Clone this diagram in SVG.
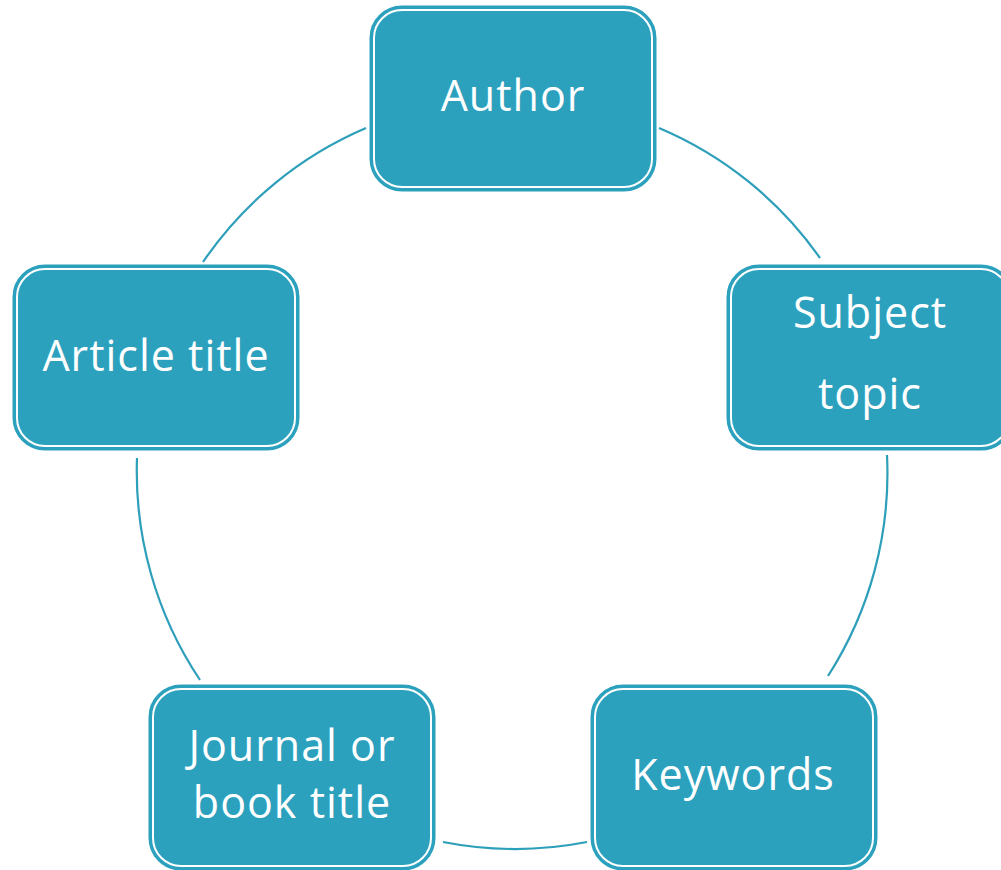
<svg xmlns="http://www.w3.org/2000/svg" width="1001" height="870" viewBox="0 0 1001 870">
<style>
.box{fill:#2ca1be;stroke:#2ca1be;stroke-width:5}
.inner{fill:none;stroke:#ffffff;stroke-width:2}
.lbl{font-family:"Open Sans","DejaVu Sans",sans-serif;font-size:43px;fill:#ffffff;text-anchor:middle;letter-spacing:1px}
.arc{fill:none;stroke:#2e9fba;stroke-width:2.2}
</style>
<rect width="1001" height="870" fill="#ffffff"/>
<g id="connectors">
<path class="arc" d="M659,128 A375.5,375.5 0 0 1 820,258"/>
<path class="arc" d="M887,455 A375.5,375.5 0 0 1 828,676"/>
<path class="arc" d="M587,842 A375.5,375.5 0 0 1 443,842"/>
<path class="arc" d="M200,680 A375.5,375.5 0 0 1 137,458"/>
<path class="arc" d="M203,262 A375.5,375.5 0 0 1 366,128"/>
</g>
<g id="author">
<rect class="box" x="372" y="8" width="282" height="181" rx="30"/>
<rect class="inner" x="374" y="10" width="278" height="177" rx="28"/>
<text class="lbl" x="513" y="111">Author</text>
</g>
<g id="subject">
<rect class="box" x="729" y="267" width="282" height="181" rx="30"/>
<rect class="inner" x="731" y="269" width="278" height="177" rx="28"/>
<text class="lbl" x="870" y="328">Subject</text>
<text class="lbl" x="870" y="409">topic</text>
</g>
<g id="keywords">
<rect class="box" x="593" y="687" width="282" height="181" rx="30"/>
<rect class="inner" x="595" y="689" width="278" height="177" rx="28"/>
<text class="lbl" x="733" y="790">Keywords</text>
</g>
<g id="journal">
<rect class="box" x="151" y="687" width="282" height="181" rx="30"/>
<rect class="inner" x="153" y="689" width="278" height="177" rx="28"/>
<text class="lbl" x="292" y="761">Journal or</text>
<text class="lbl" x="292" y="818">book title</text>
</g>
<g id="article">
<rect class="box" x="15" y="267" width="282" height="181" rx="30"/>
<rect class="inner" x="17" y="269" width="278" height="177" rx="28"/>
<text class="lbl" x="156" y="371">Article title</text>
</g>
</svg>
